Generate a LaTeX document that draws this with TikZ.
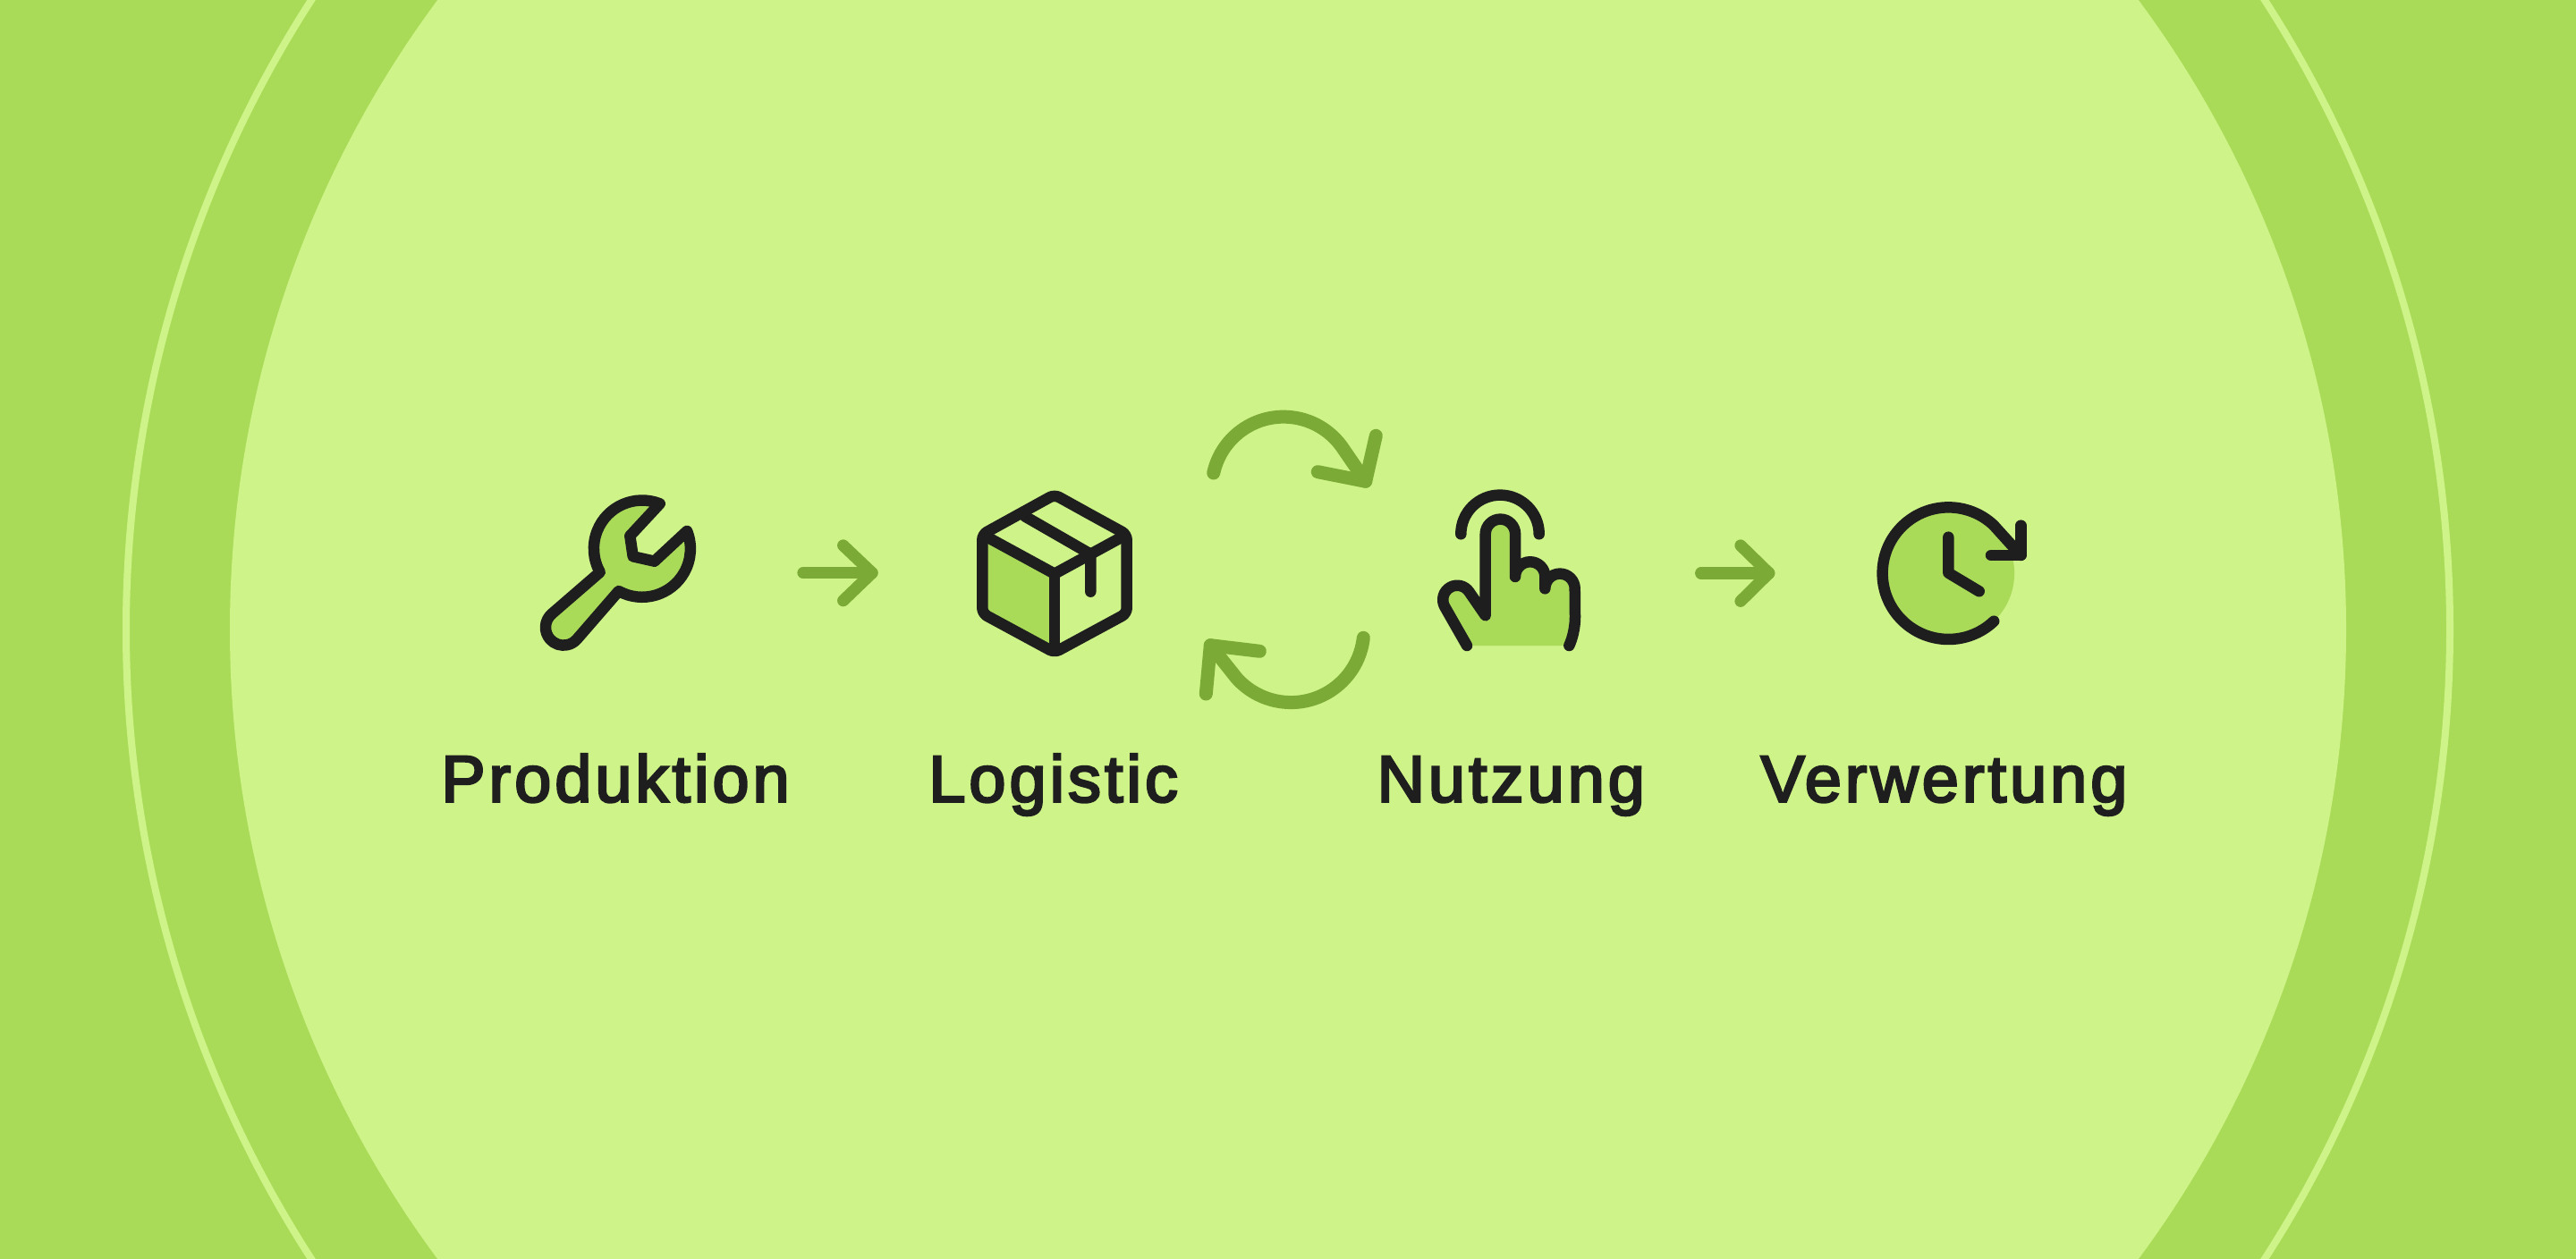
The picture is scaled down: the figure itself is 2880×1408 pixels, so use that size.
\documentclass[tikz,border=0pt]{standalone}
\usepackage{fontspec}
\setmainfont{Liberation Sans}
\newfontfamily\steplabelfont[FakeBold=3.5, LetterSpace=5.5]{Liberation Sans}
\usepackage{xcolor}
\usetikzlibrary{positioning}
\definecolor{bandgreen}{HTML}{A9DB59}
\definecolor{palegreen}{HTML}{CEF388}
\definecolor{arrowgreen}{HTML}{7BAB36}
\definecolor{inkblack}{HTML}{1E1E1E}

\begin{document}
\begin{tikzpicture}[
    x=0.02cm, y=-0.02cm,
    icon/.style={draw=inkblack, line width=0.25cm, line cap=round, line join=round},
    iconfill/.style={fill=bandgreen, draw=none},
    flow/.style={draw=arrowgreen, line width=0.265cm, line cap=round, line join=round},
    cycleflow/.style={flow, line width=0.3cm},
    steplabel/.style={inner sep=0pt, text=inkblack, font=\fontsize{42}{50}\steplabelfont\selectfont}
]
\useasboundingbox (0,0) rectangle (2880,1408);
\clip (0,0) rectangle (2880,1408);

% Background
\fill[bandgreen] (0,0) rectangle (2880,1408);
\fill[palegreen] (1440,704) circle (1183);
\draw[palegreen, line width=0.16cm] (1440,704) circle (1299);

% Labels
\node[steplabel, anchor=base] (produktion) at (688,896.7) {Produktion};
\node[steplabel, base right=155*0.02cm of produktion] (logistic) {Logistic};
\node[steplabel, base right=222*0.02cm of logistic] (nutzung) {Nutzung};
\node[steplabel, base right=129*0.02cm of nutzung] (verwertung) {Verwertung};

% Wrench
\draw[icon, fill=bandgreen] (737.7,563.3) arc (-68.5:-209.2:54) -- (616.7,686.7)
    arc (228.4:41.6:20) -- (691.7,661) arc (119:-21.6:54)
    -- (731.7,627.7) -- (707.7,622.3) -- (704.3,599.3) -- cycle;

% Box
\fill[iconfill] (1098.3,597.7) -- (1179,641.7) -- (1179,729.7) -- (1098.3,686) -- cycle;
\draw[icon, rounded corners=0.12cm] (1219,575.4) -- (1259.7,597.7) -- (1259.7,686) -- (1179,729.7)
    -- (1098.3,686) -- (1098.3,597.7) -- (1179,553.2) -- cycle;
\draw[icon] (1102,599.7) -- (1179,641.7) -- (1256,599.7);
\draw[icon] (1179,641.7) -- (1179,727);
\draw[icon] (1146.3,577.7) -- (1219.3,619.7) -- (1219.3,661.7);

% Hand
\fill[iconfill] (1615.3,678.7) arc (150.2:325.2:16) -- (1660.7,688.3) -- (1660.7,597.3)
    arc (180:360:16.7) -- (1694,645) arc (180:360:16.7) -- (1727.3,658.3)
    arc (180:360:16.7) -- (1761,690) .. controls (1761,702) and (1758,714) .. (1754.3,722)
    -- (1640,722) -- cycle;
\draw[icon] (1640,722) -- (1615.3,678.7) arc (150.2:325.2:16) -- (1660.7,688.3) -- (1660.7,597.3)
    arc (180:360:16.7) -- (1694,645) arc (180:360:16.7) -- (1727.3,658.3)
    arc (180:360:16.7) -- (1761,690) .. controls (1761,702) and (1758,714) .. (1754.3,722);
\draw[icon] (1633.3,597.3) arc (180:360:43.7);

% Clock
\fill[iconfill] (2178.3,641.2) circle (73.8);
\draw[icon] (2229.2,694.7) arc (46.5:313:73.8) -- (2259.3,621);
\draw[icon] (2259.3,587.7) -- (2259.3,621) -- (2226,621);
\draw[icon] (2178.3,600.7) -- (2178.3,640.7) -- (2212.7,661.3);

% Arrows
\coordinate (flowAstart) at (898,640.7);
\coordinate (flowAtip) at (975,640.7);
\coordinate (flowBstart) at (1901.7,641);
\coordinate (flowBtip) at (1977.7,641);
\draw[flow] (flowAstart) -- (flowAtip);
\draw[flow] (942.7,610) -- (flowAtip) -- (942.7,671.7);
\draw[flow] (flowBstart) -- (flowBtip);
\draw[flow] (1946,610) -- (flowBtip) -- (1946,672.3);

% Cycle arrows
\coordinate (cycleAtip) at (1526.7,538.3);
\coordinate (cycleBtip) at (1353.3,721.7);
\draw[cycleflow] (1356.7,529) arc (192.5:324.2:80.2) -- (cycleAtip);
\draw[cycleflow] (1538.3,487.3) -- (cycleAtip) -- (1473.3,527.7);
\draw[cycleflow] (1524.3,713.3) arc (6.5:138:81.5) -- (cycleBtip);
\draw[cycleflow] (1408.3,728.3) -- (cycleBtip) -- (1348.3,776);

\end{tikzpicture}
\end{document}
